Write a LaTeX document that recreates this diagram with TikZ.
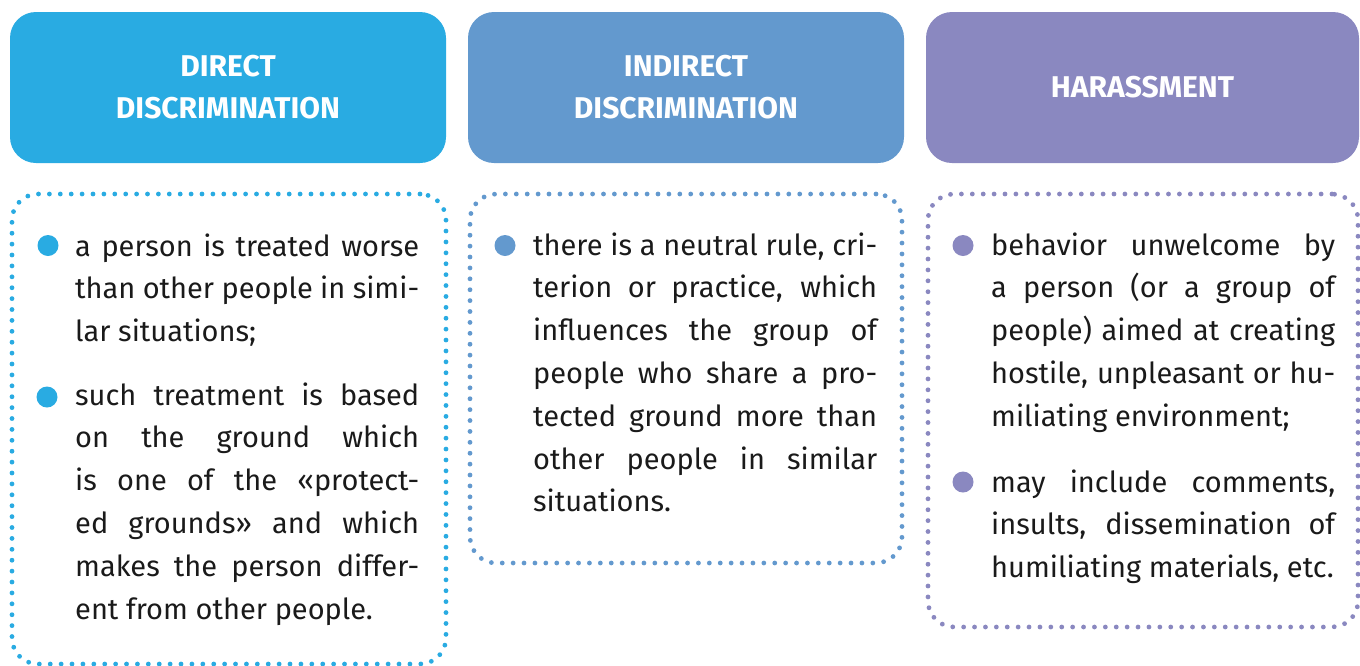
\documentclass[tikz,border=0pt]{standalone}
\usepackage{fontspec}
\setmainfont{Fira Sans}
\definecolor{cA}{HTML}{29ABE2}
\definecolor{cB}{HTML}{6399CE}
\definecolor{cC}{HTML}{8A88C0}
\definecolor{ink}{HTML}{1A1A1A}
\newcommand\bodysetup{\hyphenpenalty=10000 \tolerance=10000 \emergencystretch=0pt\relax}
\begin{document}
\begin{tikzpicture}[x=1pt,y=-1pt,
  head/.style={rounded corners=26pt, inner sep=0pt, minimum height=151pt,
    align=center, text=white, font=\bfseries\fontsize{30}{42}\selectfont},
  frame/.style={draw, rounded corners=26pt, line width=4.8pt, line cap=round,
    dash pattern=on 0pt off 10.9pt, inner sep=0pt},
  bul/.style={circle, inner sep=0pt, minimum size=21pt},
  body/.style={text width=344pt, align=justify, inner sep=0pt, anchor=base west,
    text=ink, font=\fontsize{29}{42.8}\selectfont}]
\useasboundingbox (0,0) rectangle (1360,665);
% headers
\node[head, fill=cA, minimum width=436pt] (h1) at (228,87.5) {DIRECT\\DISCRIMINATION};
\node[head, fill=cB, minimum width=436pt] (h2) at (686,87.5) {INDIRECT\\DISCRIMINATION};
\node[head, fill=cC, minimum width=433pt] (h3) at (1142.5,87.5) {HARASSMENT};
% frames
\node[frame, draw=cA, minimum width=434pt, minimum height=470pt] (f1) at (229,429) {};
\node[frame, draw=cB, minimum width=432pt, minimum height=369pt] (f2) at (686,378.5) {};
\node[frame, draw=cC, minimum width=430pt, minimum height=433pt] (f3) at (1143,410.5) {};
% bullets
\node[bul, fill=cA] (b1a) at (48,245.5) {};
\node[bul, fill=cA] (b1b) at (47,397) {};
\node[bul, fill=cB] (b2a) at (505,245.5) {};
\node[bul, fill=cC] (b3a) at (963,245.5) {};
\node[bul, fill=cC] (b3b) at (963,482) {};
% texts
\node[body] (t1a) at (75,256) {\bodysetup a person is treated worse\linebreak than other people in simi-\linebreak lar situations;};
\node[body] (t1b) at (75,405) {\bodysetup such treatment is based\linebreak on the ground which\linebreak is one of the «protect-\linebreak ed grounds» and which\linebreak makes the person differ-\linebreak ent from other people.};
\node[body] (t2a) at (533,255) {\bodysetup there is a neutral rule, cri-\linebreak terion or practice, which\linebreak influences the group of\linebreak people who share a pro-\linebreak tected ground more than\linebreak other people in similar\linebreak situations.};
\node[body] (t3a) at (991,255) {\bodysetup behavior unwelcome by\linebreak a person (or a group of\linebreak people) aimed at creating\linebreak hostile, unpleasant or hu-\linebreak miliating environment;};
\node[body] (t3b) at (991,492) {\bodysetup may include comments,\linebreak insults, dissemination of\linebreak humiliating materials, etc.};
\end{tikzpicture}
\end{document}
